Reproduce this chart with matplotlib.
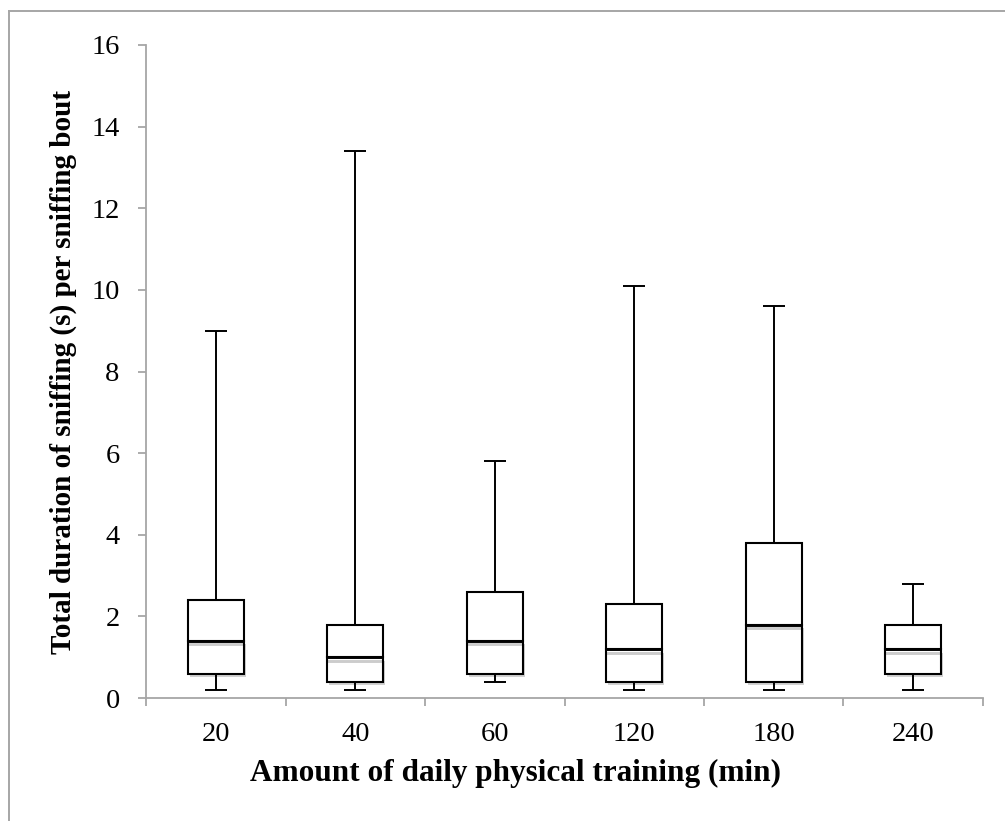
"""
Box plot of sniffing bout duration by amount of daily physical training.
Boxes are drawn as stacked bars (Q1->median, median->Q3) with whiskers.
"""

import matplotlib.pyplot as plt
import matplotlib.patheffects as pe
from matplotlib.lines import Line2D
import numpy as np

training_min = ["20", "40", "60", "120", "180", "240"]
whisker_low = [0.2, 0.2, 0.4, 0.2, 0.2, 0.2]
quartile_1 = [0.6, 0.4, 0.6, 0.4, 0.4, 0.6]
median = [1.4, 1.0, 1.4, 1.2, 1.8, 1.2]
quartile_3 = [2.4, 1.8, 2.6, 2.3, 3.8, 1.8]
whisker_high = [9.0, 13.4, 5.8, 10.1, 9.6, 2.8]

AXIS_GREY = "#a6a6a6"

plt.rcParams["font.family"] = ["Liberation Serif", "DejaVu Serif"]

fig = plt.figure(figsize=(10.05, 8.21), dpi=100)
ax = fig.add_axes([0.1453, 0.1498, 0.8328, 0.7954])

x = np.arange(len(training_min))
q1 = np.array(quartile_1)
med = np.array(median)
q3 = np.array(quartile_3)
lo = np.array(whisker_low)
hi = np.array(whisker_high)

shadow = [pe.withSimplePatchShadow(offset=(1.5, -2.5), shadow_rgbFace="#000000", alpha=0.18)]
line_shadow = [pe.SimpleLineShadow(offset=(0, -2.5), shadow_color="#000000", alpha=0.2), pe.Normal()]

# whiskers with end caps
ax.errorbar(x, q3, yerr=[np.zeros_like(q3), hi - q3], fmt="none",
            ecolor="black", elinewidth=1.4, capsize=8, capthick=1.4, zorder=2)
ax.errorbar(x, q1, yerr=[q1 - lo, np.zeros_like(q1)], fmt="none",
            ecolor="black", elinewidth=1.4, capsize=8, capthick=1.4, zorder=2)

# box halves
ax.bar(x, med - q1, 0.4, bottom=q1, color="white", edgecolor="black",
       linewidth=1.5, zorder=3, path_effects=shadow)
ax.bar(x, q3 - med, 0.4, bottom=med, color="white", edgecolor="black",
       linewidth=1.5, zorder=3)
for xi, m in zip(x, med):
    ax.plot([xi - 0.2, xi + 0.2], [m, m], color="black", lw=2.1, zorder=4,
            solid_capstyle="butt", path_effects=line_shadow)

ax.set_xlim(-0.5, len(training_min) - 0.5)
ax.set_ylim(0, 16)
ax.set_yticks(np.arange(0, 17, 2))
ax.set_xticks(x)
ax.set_xticklabels(training_min)
ax.set_xticks(np.arange(-0.5, len(training_min)), minor=True)
ax.tick_params(axis="x", which="major", length=0, pad=17, labelsize=20.5)
ax.tick_params(axis="x", which="minor", length=6, width=1.3, color=AXIS_GREY)
ax.tick_params(axis="y", length=6, width=1.3, color=AXIS_GREY, pad=13, labelsize=20.5)

for side in ("top", "right"):
    ax.spines[side].set_visible(False)
for side in ("left", "bottom"):
    ax.spines[side].set_color(AXIS_GREY)
    ax.spines[side].set_linewidth(1.3)

ax.set_ylabel("Total duration of sniffing (s) per sniffing bout",
              fontsize=21, fontweight="bold", labelpad=10)
fig.text(516 / 1005, 1 - 773 / 821, "Amount of daily physical training (min)",
         ha="center", va="center", fontsize=22.5, fontweight="bold")

# outer chart frame (only the top and left edges fall inside the image)
fig.add_artist(Line2D([9 / 1005, 1.0], [1 - 11 / 821, 1 - 11 / 821],
                      transform=fig.transFigure, color=AXIS_GREY, lw=1.4))
fig.add_artist(Line2D([9 / 1005, 9 / 1005], [0.0, 1 - 11 / 821],
                      transform=fig.transFigure, color=AXIS_GREY, lw=1.4))

fig.savefig("out.png", dpi=100, facecolor="white")
